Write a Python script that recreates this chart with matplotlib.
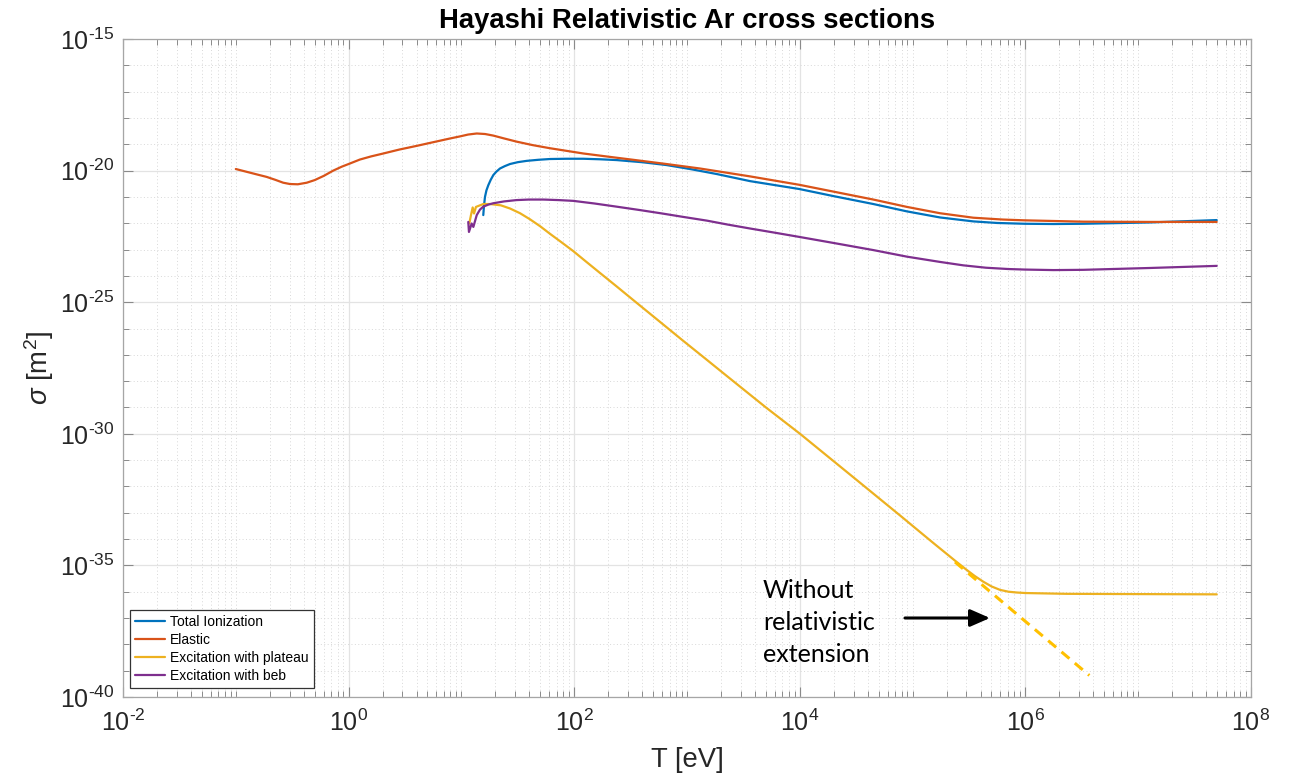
import numpy as np
import matplotlib
matplotlib.use("Agg")
import matplotlib.pyplot as plt
from matplotlib.ticker import FixedLocator, FuncFormatter, NullFormatter

plt.rcParams['font.family'] = ['Liberation Sans', 'DejaVu Sans']
plt.rcParams['mathtext.fontset'] = 'custom'
plt.rcParams['mathtext.rm'] = 'Liberation Sans'
plt.rcParams['mathtext.it'] = 'Liberation Sans:italic'
plt.rcParams['mathtext.default'] = 'regular'

# ---- data (log10 T [eV], log10 sigma [m^2]) ----
elastic_logT = [-1.0, -0.9, -0.8, -0.726, -0.65, -0.58, -0.52, -0.45, -0.371, -0.3,
                -0.22, -0.136, -0.06, 0.012, 0.1, 0.2, 0.308, 0.45, 0.604, 0.751,
                0.899, 0.988, 1.06, 1.136, 1.21, 1.283, 1.38, 1.49, 1.63, 1.785,
                2.081, 2.3, 2.524, 2.8, 3.115, 3.559, 3.996, 4.3, 4.652, 4.95,
                5.243, 5.538, 5.8, 5.996, 6.513, 7.104, 7.696]
elastic_logS = [-19.94, -20.05, -20.16, -20.24, -20.35, -20.46, -20.51, -20.52, -20.46, -20.36,
                -20.20, -20.00, -19.85, -19.73, -19.58, -19.46, -19.35, -19.20, -19.06, -18.92,
                -18.78, -18.70, -18.63, -18.59, -18.61, -18.67, -18.78, -18.90, -19.03, -19.15,
                -19.35, -19.47, -19.59, -19.74, -19.92, -20.22, -20.54, -20.80, -21.10, -21.38,
                -21.62, -21.79, -21.86, -21.89, -21.94, -21.95, -21.95]

ion_logT = [1.194, 1.2, 1.209, 1.222, 1.239, 1.26, 1.283, 1.31, 1.342, 1.385,
            1.431, 1.5, 1.579, 1.68, 1.785, 1.93, 2.081, 2.23, 2.376, 2.6,
            2.82, 3.04, 3.263, 3.559, 3.996, 4.3, 4.652, 4.95, 5.243, 5.538,
            5.75, 5.996, 6.25, 6.513, 7.104, 7.696]
ion_logS = [-21.69, -21.35, -21.0, -20.75, -20.55, -20.35, -20.17, -20.04, -19.92, -19.83,
            -19.75, -19.68, -19.63, -19.59, -19.56, -19.55, -19.55, -19.57, -19.60, -19.68,
            -19.79, -19.95, -20.13, -20.40, -20.70, -20.97, -21.27, -21.55, -21.78, -21.93,
            -21.99, -22.02, -22.03, -22.02, -21.97, -21.88]

plat_logT = [1.070, 1.085, 1.100, 1.112, 1.129, 1.194, 1.254, 1.35, 1.431, 1.52,
             1.608, 1.70, 1.785, 1.88, 1.992, 2.1, 2.229, 2.376, 2.524, 2.75,
             2.967, 3.15, 3.352, 3.7, 4.002, 4.5, 4.888, 5.184, 5.376, 5.479,
             5.55, 5.627, 5.7, 5.775, 5.85, 5.923, 6.0, 6.366, 7.0, 7.696]
plat_logS = [-22.01, -21.69, -21.40, -21.63, -21.38, -21.27, -21.27, -21.32, -21.44, -21.62,
             -21.85, -22.12, -22.40, -22.70, -23.06, -23.44, -23.89, -24.40, -24.92, -25.71,
             -26.47, -27.10, -27.80, -29.00, -30.00, -31.74, -33.10, -34.15, -34.82, -35.17,
             -35.40, -35.62, -35.80, -35.93, -36.00, -36.03, -36.05, -36.08, -36.09, -36.10]

beb_logT = [1.061, 1.067, 1.091, 1.106, 1.136, 1.165, 1.194, 1.24, 1.283, 1.38,
            1.49, 1.6, 1.726, 1.86, 1.992, 2.18, 2.376, 2.583, 2.78, 2.967,
            3.175, 3.36, 3.559, 3.78, 3.996, 4.3, 4.652, 4.95, 5.243, 5.45,
            5.65, 5.85, 5.996, 6.25, 6.513, 7.104, 7.696]
beb_logS = [-21.95, -22.33, -22.01, -22.14, -21.69, -21.48, -21.37, -21.29, -21.24, -21.17,
            -21.12, -21.10, -21.10, -21.12, -21.15, -21.25, -21.37, -21.50, -21.63, -21.76,
            -21.90, -22.05, -22.20, -22.36, -22.52, -22.75, -23.02, -23.27, -23.47, -23.60,
            -23.69, -23.74, -23.76, -23.78, -23.77, -23.70, -23.62]

# non-relativistic extension (dashed)
nonrel_logT = [5.376, 6.567]
nonrel_logS = [-34.87, -39.18]

labels = ['Total Ionization', 'Elastic', 'Excitation with plateau', 'Excitation with beb']
colors = ['#0072BD', '#D95319', '#EDB120', '#7E2F8E']

W, H = 1291, 776
fig = plt.figure(figsize=(W / 100, H / 100), dpi=100)
ax = fig.add_axes([123 / W, 1 - 697 / H, (1251 - 123) / W, (697 - 39) / H])

series = [(ion_logT, ion_logS), (elastic_logT, elastic_logS),
          (plat_logT, plat_logS), (beb_logT, beb_logS)]
for (lx, ly), lab, c in zip(series, labels, colors):
    ax.plot(10.0 ** np.array(lx), 10.0 ** np.array(ly), color=c, lw=1.6, label=lab,
            solid_joinstyle='round', solid_capstyle='round')

ax.plot(10.0 ** np.array(nonrel_logT), 10.0 ** np.array(nonrel_logS), color='#FFC000',
        lw=2.2, dashes=(3.4, 2.3))

ax.set_xscale('log')
ax.set_yscale('log')
ax.set_xlim(1e-2, 1e8)
ax.set_ylim(1e-40, 1e-15)

xmaj = 10.0 ** np.arange(-2, 9, 2)
xmin = [m * 10.0 ** k for k in range(-2, 8) for m in range(1, 10)
        if not (m == 1 and k % 2 == 0)]
ymaj = 10.0 ** np.arange(-40, -14, 5)
ymin = [10.0 ** k for k in range(-40, -14) if k % 5 != 0]


def _fmt(v, p):
    e = int(round(np.log10(v)))
    s = str(abs(e))
    if e < 0:
        s = '\u2010' + s
    return r'$10^{%s}$' % s


fmt = FuncFormatter(_fmt)
ax.xaxis.set_major_locator(FixedLocator(xmaj))
ax.xaxis.set_minor_locator(FixedLocator(xmin))
ax.yaxis.set_major_locator(FixedLocator(ymaj))
ax.yaxis.set_minor_locator(FixedLocator(ymin))
ax.xaxis.set_major_formatter(fmt)
ax.yaxis.set_major_formatter(fmt)
ax.xaxis.set_minor_formatter(NullFormatter())
ax.yaxis.set_minor_formatter(NullFormatter())

ax.grid(True, which='major', color='#e3e3e3', lw=0.9, ls='-')
ax.grid(True, which='minor', color='#d8d8d8', lw=0.7, ls=(0, (1, 2.5)))
ax.set_axisbelow(True)

ax.tick_params(which='both', direction='in', top=True, right=True, color='#8a8a8a',
               labelcolor='#262626')
ax.tick_params(which='major', length=7.5, width=0.8, labelsize=18)
ax.tick_params(which='minor', length=4, width=0.7)
ax.tick_params(axis='x', which='major', pad=9)
ax.tick_params(axis='y', which='major', pad=6)
for s in ax.spines.values():
    s.set_color('#a6a6a6')
    s.set_linewidth(0.9)

ax.set_xlabel('T [eV]', fontsize=19.8, color='#262626', labelpad=8)
ax.set_ylabel(r'$\mathit{\sigma}$ [m$^2$]', fontsize=19.8, color='#262626', labelpad=3)
fig.text(687 / W, 1 - 28 / H, 'Hayashi Relativistic Ar cross sections', ha='center',
         va='baseline', fontsize=19.8, fontweight='bold', color='black')

leg = ax.legend(loc='lower left', bbox_to_anchor=(7 / 1128, 9 / 658), borderaxespad=0,
                fontsize=10, frameon=True, fancybox=False, framealpha=1,
                handlelength=2.2, handletextpad=0.35, labelspacing=0.3, borderpad=0.35)
leg.get_frame().set_edgecolor('#333333')
leg.get_frame().set_linewidth(0.9)

# annotation
tf = fig.transFigure
for txt, yb in zip(['Without', 'relativistic', 'extension'], [598, 630, 662]):
    fig.text(763 / W, 1 - yb / H, txt, fontsize=18, family=['Lato', 'DejaVu Sans'],
             ha='left', va='baseline', color='black')
ax.annotate('', xy=(990 / W, 1 - 618 / H), xytext=(905 / W, 1 - 618 / H),
            xycoords=tf, textcoords=tf,
            arrowprops=dict(arrowstyle='-|>,head_length=0.8,head_width=0.35',
                            mutation_scale=15, color='black', lw=2.2,
                            shrinkA=0, shrinkB=0))

fig.savefig('out.png', dpi=100)
